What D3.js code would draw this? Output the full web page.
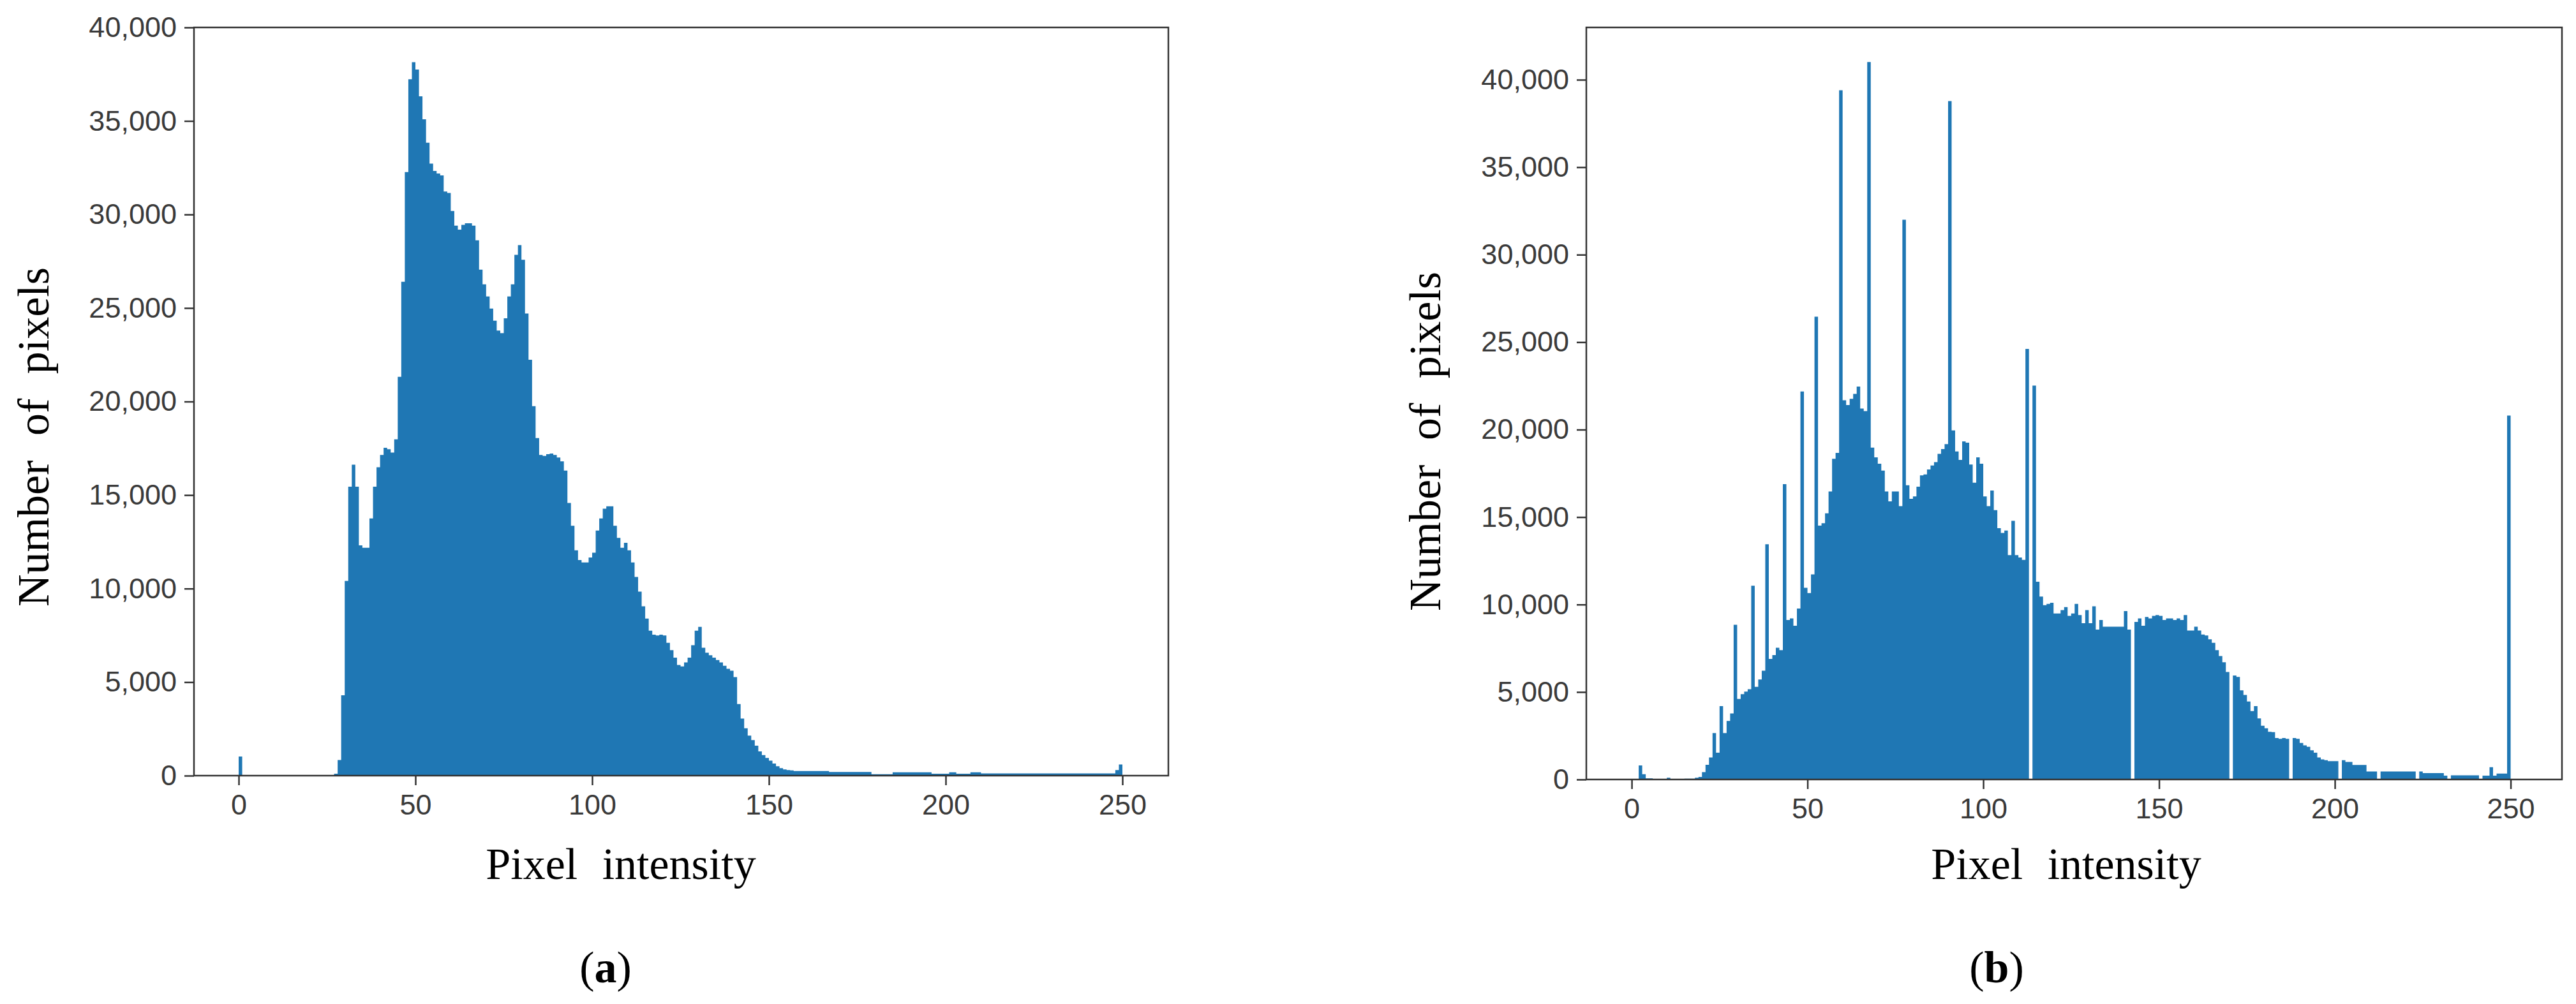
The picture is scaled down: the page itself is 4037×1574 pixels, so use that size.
<!DOCTYPE html>
<html>
<head>
<meta charset="utf-8">
<script src="https://cdn.jsdelivr.net/npm/d3@7"></script>
<style>
  body { margin: 0; background: #fff; }
  .tick text { font-family: "Liberation Sans", Arial, sans-serif; font-size: 45px; fill: #3a3a3a; }
  .title { font-family: "Liberation Serif", "Times New Roman", serif; font-size: 70px; fill: #000; word-spacing: 0.3em; }
</style>
</head>
<body>
<svg id="chart" width="4037" height="1574"></svg>
<script>
// Histogram counts, one value per pixel intensity 0..255
const countsA = [
  1020, 0, 0, 0, 0, 0, 0, 0, 0, 0, 0, 0, 0, 0, 0, 0, 0, 0, 0, 0,
  0, 0, 0, 0, 0, 0, 0, 100, 835, 4300, 10410, 15450, 16620, 15450, 12310, 12180, 12180, 13750, 15450, 16490,
  17140, 17530, 17450, 17270, 17980, 21320, 26400, 32270, 37230, 38140, 37750, 36320, 35090, 33840, 32720, 32330, 32190, 32090, 31230, 31150,
  30190, 29400, 29190, 29450, 29530, 29530, 29400, 28620, 27050, 26270, 25620, 24970, 24320, 23790, 23660, 24450, 25620, 26270, 27840, 28360,
  27580, 24710, 22230, 19750, 18050, 17140, 17090, 17190, 17220, 17140, 17010, 16800, 16310, 14580, 13360, 12050, 11530, 11400, 11400, 11660,
  11920, 13100, 13750, 14270, 14400, 14400, 13360, 12710, 12180, 12450, 12050, 11400, 10620, 9840, 9050, 8400, 7750, 7540, 7490, 7540,
  7490, 7100, 6710, 6310, 5920, 5840, 6050, 6310, 6970, 7750, 7950, 6840, 6570, 6440, 6310, 6180, 6050, 5870, 5710, 5610,
  5270, 3830, 3050, 2530, 2140, 1900, 1600, 1300, 1100, 950, 800, 650, 500, 400, 330, 300, 280, 250, 250, 250,
  250, 250, 250, 250, 250, 250, 250, 200, 200, 200, 200, 200, 200, 200, 200, 200, 200, 200, 200, 80,
  80, 80, 80, 80, 80, 180, 180, 180, 180, 180, 180, 180, 180, 180, 180, 180, 100, 100, 100, 100,
  100, 180, 180, 100, 100, 100, 100, 180, 180, 180, 120, 120, 120, 120, 120, 120, 120, 120, 120, 120,
  120, 120, 120, 120, 120, 120, 120, 120, 120, 120, 120, 120, 120, 120, 120, 120, 120, 120, 120, 120,
  120, 120, 120, 120, 120, 120, 120, 120, 300, 600, 0, 0, 0, 0, 0, 0
];
const countsB = [
  0, 0, 800, 300, 60, 60, 0, 0, 0, 0, 100, 0, 0, 0, 0, 50, 50, 50, 100, 150,
  420, 840, 1260, 2650, 1530, 4190, 2650, 3350, 3770, 8840, 4600, 4880, 5020, 5160, 11080, 5300, 5720, 6220, 13450, 6890,
  7110, 7530, 7390, 16880, 9120, 9210, 8790, 9770, 22180, 10960, 10660, 11720, 26450, 14510, 14650, 15210, 16460, 18330, 18670, 39400,
  21680, 21400, 21760, 22040, 22460, 21200, 21060, 41010, 18970, 18410, 18050, 17660, 16460, 15900, 16460, 16460, 15620, 32000, 16820, 16040,
  16180, 16740, 17380, 17440, 17720, 17950, 18140, 18610, 18890, 19170, 38780, 19950, 18750, 18270, 19330, 19250, 18000, 16960, 18410, 18050,
  16180, 15620, 16520, 15400, 14370, 14090, 14230, 12830, 14790, 12830, 12690, 12550, 24610, 0, 22520, 11300, 10460, 9960, 10040, 10100,
  9490, 9490, 9680, 9850, 9350, 9490, 10040, 9400, 8930, 9680, 8930, 9900, 8570, 9120, 8730, 8730, 8730, 8730, 8730, 8730,
  9630, 8570, 0, 9010, 9210, 8790, 9290, 9210, 9350, 9400, 9350, 9120, 9210, 9210, 9120, 9210, 9120, 9400, 8510, 8510,
  8730, 8510, 8290, 8230, 8010, 7810, 7390, 7060, 6700, 6140, 0, 5940, 5860, 5100, 4830, 4460, 3910, 4190, 3490, 3070,
  2930, 2730, 2710, 2370, 2320, 2370, 2320, 0, 2370, 2320, 2090, 1950, 1870, 1670, 1530, 1260, 1150, 1100, 1050, 1050,
  1050, 0, 1100, 1000, 1000, 830, 830, 830, 830, 460, 460, 460, 0, 460, 460, 460, 460, 460, 460, 460,
  460, 460, 460, 0, 460, 365, 365, 365, 365, 365, 365, 220, 0, 240, 240, 240, 240, 240, 240, 240,
  240, 0, 220, 220, 700, 220, 340, 340, 340, 20800, 0, 0, 0, 0, 0, 0
];
const xTicks = [0, 50, 100, 150, 200, 250];
const yTicks = [0, 5000, 10000, 15000, 20000, 25000, 30000, 35000, 40000];
const xTitle = "Pixel intensity";
const yTitle = "Number of pixels";

const svg = d3.select("#chart");
const barColor = "#1f77b4";
const axisColor = "#333";

function drawPanel(cfg) {
  const x = d3.scaleLinear().domain(cfg.xDomain).range([cfg.left, cfg.right]);
  const y = d3.scaleLinear().domain(cfg.yDomain).range([cfg.bottom, cfg.top]);
  const g = svg.append("g");

  // each bin i covers [i, i+1]; one step path avoids seams between bars
  const bins = cfg.counts.map((d, i) => ({ i, d })).concat([{ i: cfg.counts.length, d: 0 }]);
  g.append("path")
    .datum(bins)
    .attr("fill", barColor)
    .attr("d", d3.area().curve(d3.curveStepAfter)
      .x(b => x(b.i)).y0(cfg.bottom).y1(b => y(b.d)));

  const xAxis = g.append("g").attr("transform", `translate(0,${cfg.bottom})`)
    .call(d3.axisBottom(x).tickValues(xTicks).tickSize(15).tickPadding(14).tickFormat(d3.format("d")));
  const yAxis = g.append("g").attr("transform", `translate(${cfg.left},0)`)
    .call(d3.axisLeft(y).tickValues(yTicks).tickSize(15).tickPadding(12).tickFormat(d3.format(",")));
  [xAxis, yAxis].forEach(a => {
    a.select(".domain").remove();
    a.selectAll(".tick line").attr("stroke", axisColor).attr("stroke-width", 2.5);
  });

  g.append("rect")
    .attr("x", cfg.left).attr("y", cfg.top)
    .attr("width", cfg.right - cfg.left).attr("height", cfg.bottom - cfg.top)
    .attr("fill", "none").attr("stroke", axisColor).attr("stroke-width", 2.5);

  g.append("text").attr("class", "title")
    .attr("x", cfg.xTitleX).attr("y", 1378)
    .attr("text-anchor", "middle").text(xTitle);
  g.append("text").attr("class", "title")
    .attr("transform", `translate(${cfg.yTitleX},${cfg.yTitleY}) rotate(-90)`)
    .attr("text-anchor", "middle").text(yTitle);

  const cap = g.append("text").attr("class", "title")
    .attr("x", cfg.capX).attr("y", 1540).attr("text-anchor", "middle");
  cap.append("tspan").text("(");
  cap.append("tspan").attr("font-weight", "bold").text(cfg.letter);
  cap.append("tspan").text(")");
}

drawPanel({
  counts: countsA, letter: "a",
  left: 304, right: 1831, top: 43, bottom: 1216,
  xDomain: [-12.64, 263.0], yDomain: [0, 40000],
  xTitleX: 973, yTitleX: 76, yTitleY: 685, capX: 949
});
drawPanel({
  counts: countsB, letter: "b",
  left: 2486, right: 4015, top: 43, bottom: 1222,
  xDomain: [-12.9, 264.6], yDomain: [0, 42990],
  xTitleX: 3238, yTitleX: 2257, yTitleY: 692, capX: 3129
});
</script>
</body>
</html>
